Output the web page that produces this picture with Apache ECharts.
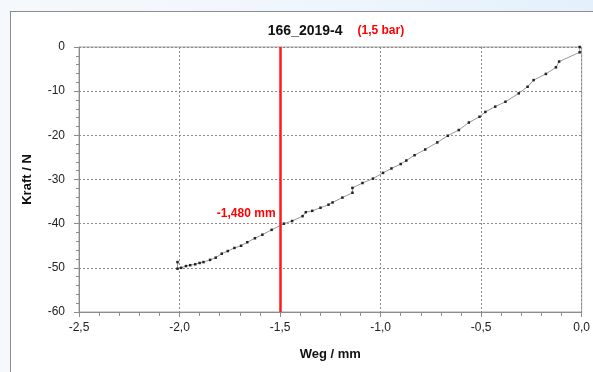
<!DOCTYPE html>
<html>
<head>
<meta charset="utf-8">
<script src="https://cdn.jsdelivr.net/npm/echarts@6/dist/echarts.min.js"></script>
<style>
  html, body { margin: 0; padding: 0; }
  body {
    width: 593px; height: 372px; overflow: hidden; position: relative;
    background: linear-gradient(to right, #f5f9fd 0%, #eef5fc 60%, #e4f0fb 100%);
  }
  #panel {
    position: absolute; left: 10px; top: 11px; width: 600px; height: 400px;
    background: #fff; border: 1px solid #8c8c8c; box-sizing: border-box;
  }
  #main { position: absolute; left: 0; top: 0; width: 593px; height: 372px; }
</style>
</head>
<body>
<div id="panel"></div>
<div id="main"></div>
<script>
// Weg / mm
var weg = [-0.01, -0.01, -0.112, -0.128, -0.178, -0.239, -0.269, -0.313, -0.379, -0.43,
  -0.479, -0.508, -0.561, -0.611, -0.666, -0.718, -0.778, -0.831, -0.872, -0.9,
  -0.946, -0.988, -1.038, -1.09, -1.14, -1.14, -1.19, -1.239, -1.259, -1.299,
  -1.34, -1.372, -1.388, -1.44, -1.481, -1.542, -1.588, -1.625, -1.663, -1.694,
  -1.727, -1.76, -1.79, -1.82, -1.848, -1.881, -1.9, -1.922, -1.947, -1.968,
  -1.992, -2.01, -2.01]
// Kraft / N
var kraft = [0, -1.2, -3.3, -4.6, -6.1, -7.5, -9.0, -10.5, -12.4, -13.5,
  -14.7, -15.8, -17.1, -18.8, -20.1, -21.6, -23.2, -24.5, -25.7, -26.5,
  -27.5, -28.5, -29.8, -30.8, -31.9, -33.0, -34.1, -35.2, -35.7, -36.4,
  -37.1, -37.4, -38.3, -39.4, -40.0, -41.4, -42.5, -43.3, -44.2, -45.0,
  -45.5, -46.2, -46.8, -47.7, -48.2, -48.7, -48.9, -49.2, -49.4, -49.6,
  -50.0, -50.2, -48.7]
var markerX = -1.5
var markerText = '-1,480 mm'
var titleMain = '166_2019-4'
var titleSub = '(1,5 bar)'

var points = []
for (var i = 0; i < weg.length; i++) {
  points.push([weg[i], kraft[i]])
}

var chart = echarts.init(document.getElementById('main'))
var font = 'Liberation Sans, Arial, sans-serif'
var option = {
  animation: false,
  textStyle: { fontFamily: font },
  title: {
    text: '{a|' + titleMain + '}   {b|' + titleSub + '}',
    left: 331,
    top: 17,
    textAlign: 'center',
    textStyle: {
      rich: {
        a: { fontFamily: font, fontSize: 14, fontWeight: 'bold', color: '#111' },
        b: { fontFamily: font, fontSize: 12, fontWeight: 'bold', color: '#ff0000' }
      }
    }
  },
  grid: {
    left: 79, right: 11, top: 47, bottom: 60,
    show: true, borderColor: '#a0a0a0', borderWidth: 1
  },
  xAxis: {
    type: 'value',
    min: -2.5, max: 0, interval: 0.5,
    name: 'Weg / mm',
    nameLocation: 'middle',
    nameGap: 36,
    nameTextStyle: { fontFamily: font, fontSize: 13, fontWeight: 'bold', color: '#111' },
    axisLine: { onZero: false, lineStyle: { color: '#8c8c8c' } },
    axisTick: { length: 5, lineStyle: { color: '#8c8c8c' } },
    minorTick: { show: true, splitNumber: 5, length: 4, lineStyle: { color: '#8c8c8c' } },
    axisLabel: {
      margin: 10, fontSize: 12, color: '#222',
      formatter: function (v) { return v.toFixed(1).replace('.', ',') }
    },
    splitLine: { show: true, lineStyle: { color: '#8c8c8c', type: [2, 2], width: 1 } }
  },
  yAxis: {
    type: 'value',
    min: -60, max: 0, interval: 10,
    name: 'Kraft / N',
    nameLocation: 'middle',
    nameGap: 45,
    nameTextStyle: { fontFamily: font, fontSize: 13, fontWeight: 'bold', color: '#111' },
    axisLine: { show: true, onZero: false, lineStyle: { color: '#8c8c8c' } },
    axisTick: { show: true, length: 5, lineStyle: { color: '#8c8c8c' } },
    minorTick: { show: true, splitNumber: 5, length: 3, lineStyle: { color: '#8c8c8c' } },
    axisLabel: { margin: 14, fontSize: 12, color: '#222' },
    splitLine: { show: true, lineStyle: { color: '#8c8c8c', type: [2, 2], width: 1 } }
  },
  series: [
    {
      type: 'line',
      data: points,
      symbol: 'rect',
      symbolSize: 2.5,
      showAllSymbol: true,
      itemStyle: { color: '#222' },
      lineStyle: { color: '#999', width: 1 },
      markLine: {
        silent: true,
        symbol: 'none',
        label: { show: false },
        lineStyle: { color: '#ff1a1a', width: 2.5, type: 'solid' },
        data: [{ xAxis: markerX }]
      },
      markPoint: {
        silent: true,
        symbol: 'rect',
        symbolSize: 1,
        itemStyle: { color: 'rgba(0,0,0,0)' },
        label: {
          show: true, position: 'left', distance: 4,
          color: '#ff0000', fontFamily: font, fontSize: 12, fontWeight: 'bold',
          formatter: markerText
        },
        data: [{ coord: [markerX, -37.8] }]
      }
    }
  ]
}
chart.setOption(option)
</script>
</body>
</html>
